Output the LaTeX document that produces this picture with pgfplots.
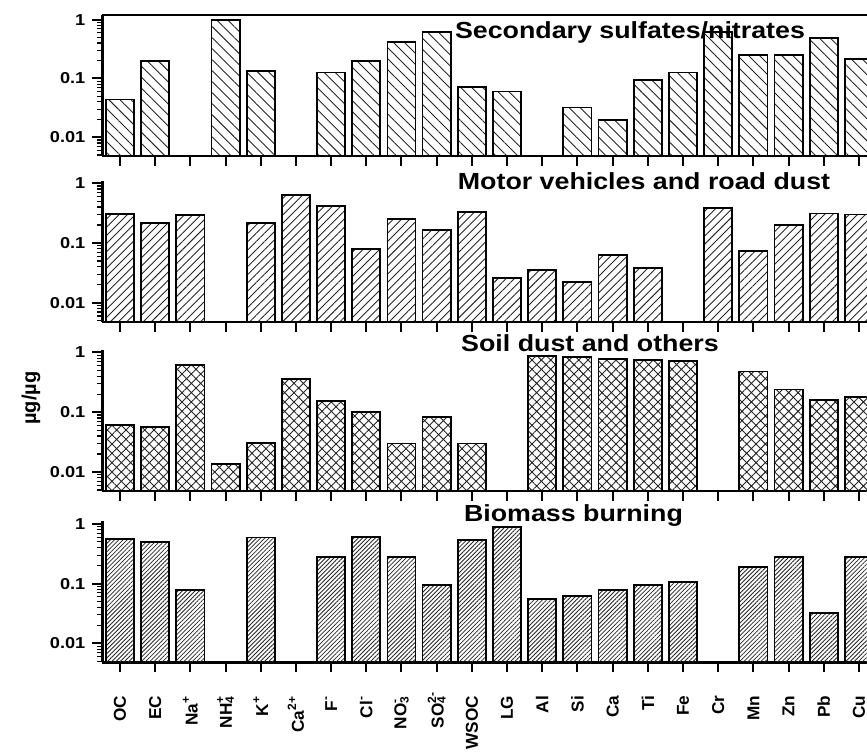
\documentclass[border=0pt]{standalone}
\usepackage{fontspec}
\setmainfont{Liberation Sans}[FakeStretch=1.15]
\newfontfamily\rotfont{Liberation Sans}
\usepackage{pgfplots}
\pgfplotsset{compat=1.18}
\usetikzlibrary{patterns.meta}
\newcommand\ion[3]{#1\rlap{\textsuperscript{#3}}\textsubscript{#2}}

\pgfplotsset{every axis/.append style={
  width=382.3pt, height=70.5pt, scale only axis,
  xmin=-0.5, xmax=21.23, ymin=0.0048,
  axis x line*=bottom, axis y line*=left,
  axis line style={line width=1.2pt},
  tick align=outside, major tick length=5pt, minor tick length=2.8pt,
  major tick style={line width=1pt, black},
  minor tick style={line width=0.6pt, black},
  xtick={0,...,21},
  ytick={0.01,0.1,1}, yticklabels={0.01,0.1,1},
  minor ytick={0.005,0.006,0.007,0.008,0.009,0.02,0.03,0.04,0.05,0.06,0.07,0.08,0.09,0.2,0.3,0.4,0.5,0.6,0.7,0.8,0.9},
  yticklabel style={font=\bfseries\fontsize{7.9}{8}\selectfont},
  anchor=south west,
}}

\begin{document}
\begin{tikzpicture}
\useasboundingbox (0,0) rectangle (433.5pt,-376pt);

% Panel 1: Secondary sulfates/nitrates
\begin{semilogyaxis}[ybar, bar width=0.8, bar shift=0pt, log origin=infty, xticklabels={}, name=p1, at={(51.2pt,-78pt)}, ymax=1.2]
\addplot[draw=black, line width=0.9pt, pattern={Lines[angle=-45,distance=3.9pt,line width=0.45pt]}, pattern color=black!85]
coordinates {(0,0.044) (1,0.2) (3,0.98) (4,0.134) (6,0.126) (7,0.197) (8,0.415) (9,0.62) (10,0.071) (11,0.06) (13,0.032) (14,0.0195) (15,0.094) (16,0.126) (17,0.62) (18,0.25) (19,0.25) (20,0.49) (21,0.215)};
\end{semilogyaxis}
\draw[line width=1.2pt] (p1.north west) -- (p1.north east);

% Panel 2: Motor vehicles and road dust
\begin{semilogyaxis}[ybar, bar width=0.8, bar shift=0pt, log origin=infty, xticklabels={}, at={(51.2pt,-160.85pt)}, ymax=1.1]
\addplot[draw=black, line width=0.9pt, pattern={Lines[angle=45,distance=2.9pt,line width=0.45pt]}, pattern color=black!85]
coordinates {(0,0.304) (1,0.215) (2,0.293) (4,0.215) (5,0.64) (6,0.42) (7,0.078) (8,0.25) (9,0.167) (10,0.33) (11,0.026) (12,0.035) (13,0.022) (14,0.063) (15,0.038) (17,0.39) (18,0.074) (19,0.2) (20,0.31) (21,0.30)};
\end{semilogyaxis}

% Panel 3: Soil dust and others
\begin{semilogyaxis}[ybar, bar width=0.8, bar shift=0pt, log origin=infty, xticklabels={}, at={(51.2pt,-245.5pt)}, ymax=1.1]
\addplot[draw=black, line width=0.9pt, pattern={Hatch[angle=45,distance=3.3pt,line width=0.45pt]}, pattern color=black!85]
coordinates {(0,0.0615) (1,0.056) (2,0.62) (3,0.0134) (4,0.031) (5,0.364) (6,0.155) (7,0.1) (8,0.030) (9,0.083) (10,0.030) (12,0.87) (13,0.84) (14,0.79) (15,0.74) (16,0.73) (18,0.48) (19,0.24) (20,0.158) (21,0.178)};
\end{semilogyaxis}

% Panel 4: Biomass burning
\begin{semilogyaxis}[ybar, bar width=0.8, bar shift=0pt, log origin=infty, at={(51.2pt,-331.2pt)}, ymax=1.1,
  xticklabels={OC,EC,Na\textsuperscript{+},\ion{NH}{4}{+},K\textsuperscript{+},Ca\textsuperscript{2+},F\textsuperscript{-},Cl\textsuperscript{-},\ion{NO}{3}{-},\ion{SO}{4}{2-},WSOC,LG,Al,Si,Ca,Ti,Fe,Cr,Mn,Zn,Pb,Cu},
  xticklabel style={rotate=90, anchor=east, inner sep=1pt, font=\rotfont\bfseries\fontsize{8.6}{9}\selectfont},
  xticklabel shift=10.5pt]
\addplot[draw=black, line width=0.9pt, pattern={Lines[angle=45,distance=1.5pt,line width=0.4pt]}, pattern color=black!85]
coordinates {(0,0.56) (1,0.50) (2,0.078) (4,0.59) (6,0.28) (7,0.61) (8,0.28) (9,0.096) (10,0.54) (11,0.90) (12,0.056) (13,0.062) (14,0.078) (15,0.096) (16,0.105) (18,0.19) (19,0.28) (20,0.032) (21,0.28)};
\end{semilogyaxis}

\begin{scope}[every node/.style={font=\bfseries\fontsize{11.65}{12}\selectfont, anchor=base, inner sep=0pt}]
\node at (315pt,-19pt) {Secondary sulfates/nitrates};
\node at (322pt,-94.5pt) {Motor vehicles and road dust};
\node at (295pt,-175.5pt) {Soil dust and others};
\node at (286.75pt,-260.5pt) {Biomass burning};
\end{scope}
\node[rotate=90, font=\rotfont\bfseries\fontsize{10}{11}\selectfont] at (15.5pt,-199pt) {µg/µg};
\end{tikzpicture}
\end{document}
